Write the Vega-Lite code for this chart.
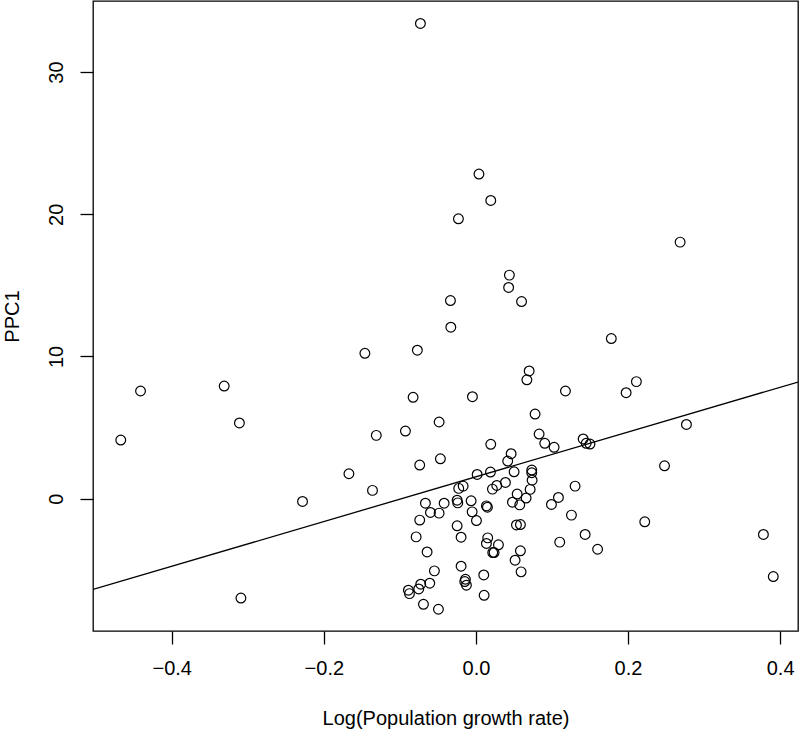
{
  "$schema": "https://vega.github.io/schema/vega-lite/v6.json",
  "width": 705,
  "height": 630,
  "autosize": {"type": "none"},
  "padding": {"left": 93, "top": 1, "right": 2, "bottom": 99},
  "background": "white",
  "config": {
    "view": {"stroke": "black", "strokeWidth": 1.3},
    "font": "Liberation Sans",
    "axis": {
      "labelFont": "Liberation Sans",
      "titleFont": "Liberation Sans",
      "labelFontSize": 20,
      "titleFontSize": 20,
      "titleFontWeight": "normal",
      "labelColor": "black",
      "titleColor": "black",
      "tickColor": "black",
      "tickWidth": 1.3,
      "tickSize": 13,
      "domain": false,
      "grid": false
    }
  },
  "layer": [
    {
      "data": {
        "values": [
          {"growth": -0.467, "ppc1": 4.12},
          {"growth": -0.441, "ppc1": 7.57},
          {"growth": -0.331, "ppc1": 7.92},
          {"growth": -0.311, "ppc1": 5.32},
          {"growth": -0.309, "ppc1": -6.99},
          {"growth": -0.228, "ppc1": -0.2},
          {"growth": -0.167, "ppc1": 1.75},
          {"growth": -0.146, "ppc1": 10.22},
          {"growth": -0.136, "ppc1": 0.58},
          {"growth": -0.131, "ppc1": 4.45},
          {"growth": -0.073, "ppc1": 33.42},
          {"growth": 0.004, "ppc1": 22.83},
          {"growth": 0.0195, "ppc1": 20.97},
          {"growth": -0.023, "ppc1": 19.68},
          {"growth": 0.044, "ppc1": 15.72},
          {"growth": 0.043, "ppc1": 14.85},
          {"growth": 0.06, "ppc1": 13.86},
          {"growth": -0.0335, "ppc1": 13.93},
          {"growth": -0.033, "ppc1": 12.06},
          {"growth": -0.077, "ppc1": 10.44},
          {"growth": 0.07, "ppc1": 8.98},
          {"growth": 0.067, "ppc1": 8.36},
          {"growth": 0.2685, "ppc1": 18.04},
          {"growth": 0.178, "ppc1": 11.26},
          {"growth": 0.211, "ppc1": 8.23},
          {"growth": 0.1975, "ppc1": 7.45},
          {"growth": 0.2768, "ppc1": 5.22},
          {"growth": 0.248, "ppc1": 2.31},
          {"growth": 0.141, "ppc1": 4.2},
          {"growth": 0.145, "ppc1": 3.89},
          {"growth": 0.15, "ppc1": 3.84},
          {"growth": 0.222, "ppc1": -1.63},
          {"growth": 0.1436, "ppc1": -2.52},
          {"growth": 0.16, "ppc1": -3.56},
          {"growth": 0.378, "ppc1": -2.52},
          {"growth": 0.391, "ppc1": -5.48},
          {"growth": 0.1177, "ppc1": 7.57},
          {"growth": -0.0826, "ppc1": 7.13},
          {"growth": -0.0046, "ppc1": 7.17},
          {"growth": 0.0778, "ppc1": 5.95},
          {"growth": -0.0484, "ppc1": 5.39},
          {"growth": -0.0927, "ppc1": 4.75},
          {"growth": 0.0831, "ppc1": 4.54},
          {"growth": 0.0905, "ppc1": 3.89},
          {"growth": 0.1028, "ppc1": 3.61},
          {"growth": 0.0195, "ppc1": 3.82},
          {"growth": 0.0463, "ppc1": 3.16},
          {"growth": 0.0418, "ppc1": 2.64},
          {"growth": -0.0467, "ppc1": 2.8},
          {"growth": -0.0739, "ppc1": 2.36},
          {"growth": 0.0016, "ppc1": 1.7},
          {"growth": 0.0191, "ppc1": 1.87},
          {"growth": 0.0502, "ppc1": 1.89},
          {"growth": 0.0734, "ppc1": 2.01},
          {"growth": 0.0734, "ppc1": 1.82},
          {"growth": 0.0739, "ppc1": 1.3},
          {"growth": 0.0713, "ppc1": 0.65},
          {"growth": 0.066, "ppc1": 0.04},
          {"growth": 0.0542, "ppc1": 0.32},
          {"growth": 0.0576, "ppc1": -0.44},
          {"growth": 0.048, "ppc1": -0.25},
          {"growth": 0.0388, "ppc1": 1.14},
          {"growth": 0.0274, "ppc1": 0.93},
          {"growth": 0.0217, "ppc1": 0.67},
          {"growth": -0.0168, "ppc1": 0.88},
          {"growth": -0.0226, "ppc1": 0.72},
          {"growth": -0.0664, "ppc1": -0.32},
          {"growth": -0.0598, "ppc1": -0.97},
          {"growth": -0.0484, "ppc1": -1.02},
          {"growth": -0.0418, "ppc1": -0.32},
          {"growth": -0.0247, "ppc1": -0.11},
          {"growth": -0.0239, "ppc1": -0.3},
          {"growth": -0.0063, "ppc1": -0.15},
          {"growth": -0.005, "ppc1": -0.93},
          {"growth": 0.0007, "ppc1": -1.54},
          {"growth": 0.0138, "ppc1": -0.51},
          {"growth": 0.0151, "ppc1": -0.6},
          {"growth": 0.0993, "ppc1": -0.41},
          {"growth": 0.1085, "ppc1": 0.08},
          {"growth": 0.1304, "ppc1": 0.88},
          {"growth": 0.1256, "ppc1": -1.16},
          {"growth": 0.1102, "ppc1": -3.06},
          {"growth": 0.0533, "ppc1": -1.85},
          {"growth": 0.0585, "ppc1": -1.82},
          {"growth": -0.0739, "ppc1": -1.51},
          {"growth": -0.0247, "ppc1": -1.91},
          {"growth": -0.0786, "ppc1": -2.69},
          {"growth": -0.0195, "ppc1": -2.71},
          {"growth": -0.0642, "ppc1": -3.75},
          {"growth": 0.0155, "ppc1": -2.76},
          {"growth": 0.0138, "ppc1": -3.15},
          {"growth": 0.0296, "ppc1": -3.25},
          {"growth": 0.0221, "ppc1": -3.79},
          {"growth": 0.0239, "ppc1": -3.79},
          {"growth": 0.0585, "ppc1": -3.67},
          {"growth": 0.0515, "ppc1": -4.33},
          {"growth": 0.0594, "ppc1": -5.15},
          {"growth": -0.0546, "ppc1": -5.08},
          {"growth": -0.0195, "ppc1": -4.75},
          {"growth": -0.0138, "ppc1": -5.67},
          {"growth": -0.0147, "ppc1": -5.83},
          {"growth": -0.0125, "ppc1": -6.09},
          {"growth": 0.0103, "ppc1": -5.37},
          {"growth": 0.0108, "ppc1": -6.8},
          {"growth": -0.0607, "ppc1": -5.95},
          {"growth": -0.0726, "ppc1": -6.02},
          {"growth": -0.0752, "ppc1": -6.35},
          {"growth": -0.0888, "ppc1": -6.44},
          {"growth": -0.0874, "ppc1": -6.68},
          {"growth": -0.069, "ppc1": -7.43},
          {"growth": -0.0493, "ppc1": -7.78}
        ]
      },
      "mark": {"type": "point", "shape": "circle", "filled": false, "stroke": "black", "strokeWidth": 1.2, "size": 95, "opacity": 1},
      "encoding": {
        "x": {
          "field": "growth", "type": "quantitative",
          "scale": {"domain": [-0.5035, 0.4235], "nice": false, "zero": false},
          "axis": {
            "values": [-0.4, -0.2, 0.0, 0.2, 0.4],
            "format": ".1f",
            "labelPadding": 14,
            "title": "Log(Population growth rate)",
            "titleX": 352.5,
            "titleY": 87,
            "titleBaseline": "middle",
            "titleAlign": "center"
          }
        },
        "y": {
          "field": "ppc1", "type": "quantitative",
          "scale": {"domain": [-9.31, 35.0], "nice": false, "zero": false},
          "axis": {
            "values": [0, 10, 20, 30],
            "labelAngle": -90,
            "labelAlign": "center",
            "labelBaseline": "bottom",
            "labelPadding": 14,
            "title": "PPC1",
            "titleAngle": -90,
            "titleX": -81,
            "titleY": 315,
            "titleAlign": "center",
            "titleBaseline": "middle"
          }
        }
      }
    },
    {
      "data": {"values": [{"growth": -0.5035, "ppc1": -6.39}, {"growth": 0.4235, "ppc1": 8.2}]},
      "mark": {"type": "line", "color": "black", "strokeWidth": 1.3, "clip": true},
      "encoding": {
        "x": {"field": "growth", "type": "quantitative"},
        "y": {"field": "ppc1", "type": "quantitative"}
      }
    }
  ]
}
